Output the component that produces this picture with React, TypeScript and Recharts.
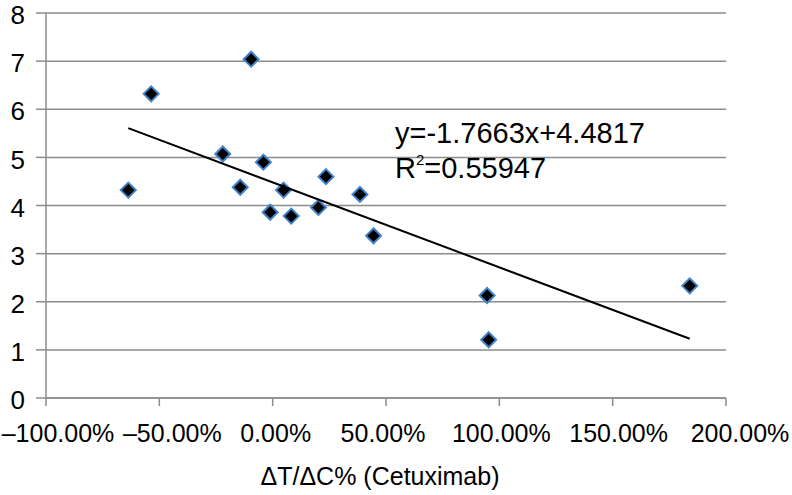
import { ScatterChart, Scatter, XAxis, YAxis, CartesianGrid } from 'recharts';

// ΔT/ΔC% (as fraction) vs y
const xValues = [-0.637, -0.536, -0.095, -0.22, -0.143, -0.041, -0.011, 0.048, 0.082, 0.202, 0.235, 0.385, 0.445, 0.946, 0.953, 1.84];
const yValues = [4.32, 6.32, 7.04, 5.07, 4.38, 4.9, 3.86, 4.32, 3.78, 3.96, 4.6, 4.23, 3.37, 2.13, 1.21, 2.33];

const xTicks = [-1, -0.5, 0, 0.5, 1, 1.5, 2];
const yTicks = [0, 1, 2, 3, 4, 5, 6, 7, 8];

const slope = -1.7663;
const intercept = 4.4817;
const rSquared = '0.55947';

const FONT = '"Liberation Sans", Arial, Helvetica, sans-serif';
const GRID = '#8c8c8c';
// the original's tick labels are not quite centred under their ticks
const TICK_SHIFT = [12, 13, 3, -3, 2, 6, 14];

const points = xValues.map((x, i) => ({ x, y: yValues[i] }));
const xMin = Math.min(...xValues);
const xMax = Math.max(...xValues);
const trend = [xMin, xMax].map((x) => ({ x, y: slope * x + intercept }));

const fmtPct = (v: number) => (v < 0 ? '\u2013' : '') + (Math.abs(v) * 100).toFixed(2) + '%';

const Diamond = (props: any) => {
  const { cx, cy } = props;
  const r = 7.5;
  return (
    <path
      d={`M${cx},${cy - r}L${cx + r},${cy}L${cx},${cy + r}L${cx - r},${cy}Z`}
      fill="#000"
      stroke="#3f82c9"
      strokeWidth={2}
    />
  );
};

const XTick = (props: any) => {
  const { x, y, payload, index } = props;
  const shift = TICK_SHIFT[index] ?? 0;
  return (
    <text x={x + shift} y={y + 34} textAnchor="middle" fontSize={25} fontFamily={FONT} fill="#000">
      {fmtPct(payload.value)}
    </text>
  );
};

const YTick = (props: any) => {
  const { x, y, payload } = props;
  return (
    <text x={x} y={y + 2} dy="0.355em" textAnchor="end" fontSize={26} fontFamily={FONT} fill="#000">
      {payload.value}
    </text>
  );
};

const XTitle = (props: any) => {
  const vb = props.viewBox || { x: 46, y: 398, width: 680 };
  return (
    <text x={vb.x + vb.width / 2 - 6} y={vb.y + 87} textAnchor="middle" fontSize={25} fontFamily={FONT} fill="#000">
      ΔT/ΔC% (Cetuximab)
    </text>
  );
};

export default function App() {
  return (
    <div style={{ position: 'absolute', left: 0, top: 0, width: 792, height: 495, background: '#fff' }}>
      <ScatterChart width={792} height={495} margin={{ top: 13, right: 66, bottom: 0, left: 0 }}>
        <CartesianGrid vertical={false} stroke={GRID} strokeWidth={1.5} />
        <XAxis
          type="number"
          dataKey="x"
          domain={[-1, 2]}
          ticks={xTicks}
          interval={0}
          height={97}
          tickSize={8}
          stroke={GRID}
          strokeWidth={1.5}
          tick={<XTick />}
          label={<XTitle />}
        />
        <YAxis
          type="number"
          dataKey="y"
          domain={[0, 8]}
          ticks={yTicks}
          interval={0}
          width={46}
          tickSize={10}
          tickMargin={11}
          stroke={GRID}
          strokeWidth={1.5}
          tick={<YTick />}
        />
        <Scatter data={points} shape={<Diamond />} isAnimationActive={false} />
        <Scatter
          data={trend}
          line={{ stroke: '#000', strokeWidth: 2 }}
          shape={() => <g />}
          isAnimationActive={false}
        />
      </ScatterChart>
      <svg width={792} height={495} style={{ position: 'absolute', left: 0, top: 0, pointerEvents: 'none' }}>
        <text x={395} y={143} fontSize={29} fontFamily={FONT} fill="#000">
          {`y=${slope}x+${intercept}`}
        </text>
        <text x={395} y={178} fontSize={29} fontFamily={FONT} fill="#000">
          R
          <tspan fontSize={15} dy={-13}>2</tspan>
          <tspan dy={13}>={rSquared}</tspan>
        </text>
      </svg>
    </div>
  );
}
